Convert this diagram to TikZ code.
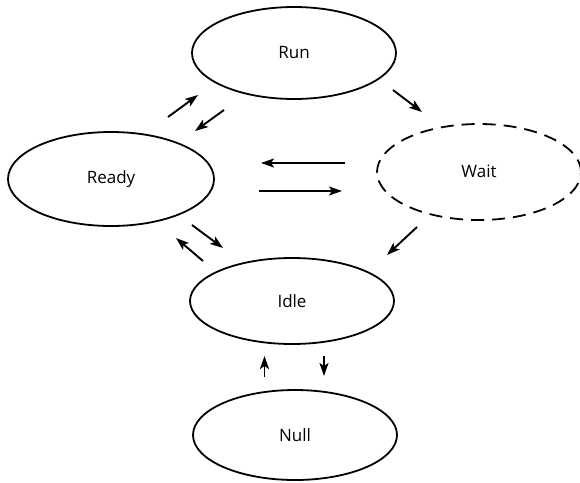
\documentclass[tikz,border=0pt]{standalone}
\usepackage{fontspec}
\setmainfont{Open Sans}
\usetikzlibrary{shapes.geometric,arrows.meta}
\begin{document}
\begin{tikzpicture}[x=1pt,y=-1pt,
  state/.style={draw,ellipse,line width=1.8pt,inner sep=0pt,minimum width=204pt,minimum height=92pt,font=\fontsize{17}{20}\selectfont},
  waitstate/.style={state,dash pattern=on 13pt off 8pt},
  trans/.style={line width=1.9pt,-{Stealth[length=13pt,width=9pt,inset=3pt]}}]
\useasboundingbox (0,0) rectangle (580,482);
\node[state] (run) at (294,53) {\raisebox{-2pt}{Run}};
\node[state,minimum width=206pt,minimum height=94pt] (ready) at (111,179) {\raisebox{2pt}{Ready}};
\node[waitstate,minimum height=96pt] (wait) at (479,172) {\raisebox{2pt}{Wait}};
\node[state,minimum height=86pt] (idle) at (292,301) {Idle};
\node[state,minimum height=90pt] (null) at (295,435) {Null};
% free-floating arrow end points
\coordinate (a1s) at (168,117); \coordinate (a1e) at (198,95);
\coordinate (a2s) at (224,110); \coordinate (a2e) at (195,131);
\coordinate (a3s) at (393,90);  \coordinate (a3e) at (422,112);
\coordinate (a4s) at (345,163); \coordinate (a4e) at (261,163);
\coordinate (a5s) at (259,191); \coordinate (a5e) at (342,191);
\coordinate (a6s) at (192,225); \coordinate (a6e) at (223,248);
\coordinate (a7s) at (203,261); \coordinate (a7e) at (176,238);
\coordinate (a8s) at (417,227); \coordinate (a8e) at (387,255);
\coordinate (a9s) at (264.5,377); \coordinate (a9e) at (264.5,356);
\coordinate (a10s) at (324,356); \coordinate (a10e) at (324,376);
\draw[trans] (a1s) -- (a1e);
\draw[trans] (a2s) -- (a2e);
\draw[trans] (a3s) -- (a3e);
\draw[trans] (a4s) -- (a4e);
\draw[trans] (a5s) -- (a5e);
\draw[trans] (a6s) -- (a6e);
\draw[trans] (a7s) -- (a7e);
\draw[trans] (a8s) -- (a8e);
\draw[trans] (a9s) -- (a9e);
\draw[trans] (a10s) -- (a10e);
\end{tikzpicture}
\end{document}
